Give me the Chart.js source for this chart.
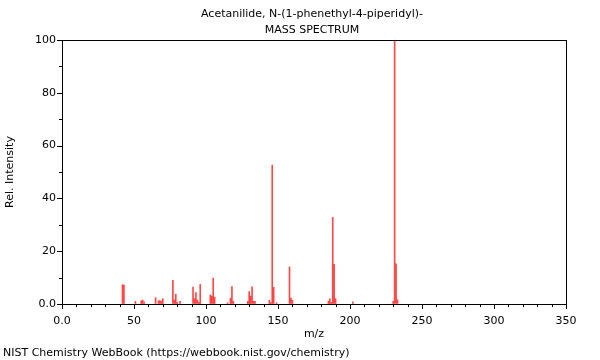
<!DOCTYPE html>
<html>
<head>
<meta charset="utf-8">
<script src="https://cdn.jsdelivr.net/npm/chart.js@4/dist/chart.umd.min.js"></script>
<style>
  html, body { margin: 0; padding: 0; background: #fff; }
  #wrap { position: relative; width: 600px; height: 360px; }
  .txt {
    position: absolute; font: 11px "DejaVu Sans", sans-serif; color: #000;
    white-space: nowrap; line-height: 16px;
  }
  #title { left: 112px; width: 400px; top: 6px; text-align: center; }
  #footer { left: 3px; top: 345px; }
</style>
</head>
<body>
<div id="wrap">
  <canvas id="spectrum" width="600" height="360"></canvas>
  <div id="title" class="txt"></div>
  <div id="footer" class="txt">NIST Chemistry WebBook (https://webbook.nist.gov/chemistry)</div>
</div>
<script>
// peaks: m/z and relative intensity
var mz = [42, 43, 51, 55, 56, 57, 65, 67, 68, 69, 70, 77, 78, 79, 80, 82,
          91, 92, 93, 94, 95, 96, 103, 104, 105, 106, 115, 117, 118, 119,
          129, 130, 131, 132, 133, 134, 144, 145, 146, 147, 149,
          158, 159, 160, 185, 186, 187, 188, 189, 190, 202, 230, 231, 232, 233];
var intensity = [7.3, 7.2, 1.0, 1.2, 1.5, 0.8, 2.4, 1.2, 1.3, 1.0, 2.0, 9.0, 1.5, 3.7, 0.6, 1.0,
                 6.4, 2.0, 4.3, 1.5, 0.6, 7.4, 3.4, 3.0, 9.8, 2.6, 0.5, 2.2, 6.6, 1.0,
                 1.0, 4.7, 3.0, 6.5, 1.0, 1.0, 1.4, 0.5, 52.6, 6.3, 0.5,
                 14.0, 2.2, 1.4, 1.0, 2.0, 0.6, 32.8, 15.0, 2.0, 0.8, 1.0, 100, 15.2, 1.6];
var titleLines = ['Acetanilide, N-(1-phenethyl-4-piperidyl)-', 'MASS SPECTRUM'];
var xTicks = [0, 50, 100, 150, 200, 250, 300, 350];
var yTicks = [0, 20, 40, 60, 80, 100];

document.getElementById('title').innerHTML = titleLines.join('<br>');

var font = { family: 'DejaVu Sans', size: 11, lineHeight: 1.2 };

// frame round the plot and the major / minor tick marks
var framePlugin = {
  id: 'frame',
  afterDraw: function (chart) {
    var ctx = chart.ctx, a = chart.chartArea;
    var xs = chart.scales.x, ys = chart.scales.y;
    ctx.save();
    ctx.strokeStyle = '#000';
    ctx.lineWidth = 1;
    ctx.strokeRect(Math.round(a.left) + 0.5, Math.round(a.top) + 0.5,
                   Math.round(a.right - a.left), Math.round(a.bottom - a.top));
    ctx.beginPath();
    for (var v = 0; v <= 350; v += 10) {
      var px = Math.round(xs.getPixelForValue(v)) + 0.5;
      var len = (v % 50 === 0) ? 5 : 3;
      ctx.moveTo(px, Math.round(a.bottom));
      ctx.lineTo(px, Math.round(a.bottom) + len);
    }
    for (var w = 0; w <= 100; w += 10) {
      var py = Math.round(ys.getPixelForValue(w)) + 0.5;
      var l = (w % 20 === 0) ? 5 : 3;
      ctx.moveTo(Math.round(a.left), py);
      ctx.lineTo(Math.round(a.left) - l, py);
    }
    ctx.stroke();
    ctx.restore();
  }
};

var points = mz.map(function (m, i) { return { x: m, y: intensity[i] }; });

var ctx = document.getElementById('spectrum');
var chart = new Chart(ctx, {
  type: 'bar',
  data: {
    datasets: [{
      data: points,
      backgroundColor: 'rgba(255,0,0,0.72)',
      borderWidth: 0,
      barThickness: 1
    }]
  },
  options: {
    responsive: false,
    animation: false,
    events: [],
    layout: { padding: { left: 0, right: 34, top: 40, bottom: 0 } },
    plugins: {
      legend: { display: false },
      tooltip: { enabled: false },
      title: { display: false }
    },
    scales: {
      x: {
        type: 'linear',
        min: 0,
        max: 350,
        offset: false,
        afterBuildTicks: function (scale) {
          scale.ticks = xTicks.map(function (v) { return { value: v }; });
        },
        afterFit: function (scale) { scale.height = 56; },
        grid: { drawOnChartArea: false, tickLength: 5, tickColor: 'rgba(0,0,0,0)' },
        border: { display: false },
        ticks: {
          color: '#000', font: font, padding: 6, maxRotation: 0, autoSkip: false,
          callback: function (v) { return v === 0 ? '0.0' : v; }
        },
        title: {
          display: true, text: 'm/z', color: '#000', font: font,
          padding: { top: 0, bottom: 19 }
        }
      },
      y: {
        min: 0,
        max: 100,
        afterBuildTicks: function (scale) {
          scale.ticks = yTicks.map(function (v) { return { value: v }; });
        },
        afterFit: function (scale) { scale.width = 62; },
        grid: { drawOnChartArea: false, tickLength: 5, tickColor: 'rgba(0,0,0,0)' },
        border: { display: false },
        ticks: {
          color: '#000', font: font, padding: 1,
          callback: function (v) { return v === 0 ? '0.0' : v; }
        },
        title: {
          display: true, text: 'Rel. Intensity', color: '#000', font: font,
          padding: { top: 4, bottom: 0 }
        }
      }
    }
  },
  plugins: [framePlugin]
});
</script>
</body>
</html>
